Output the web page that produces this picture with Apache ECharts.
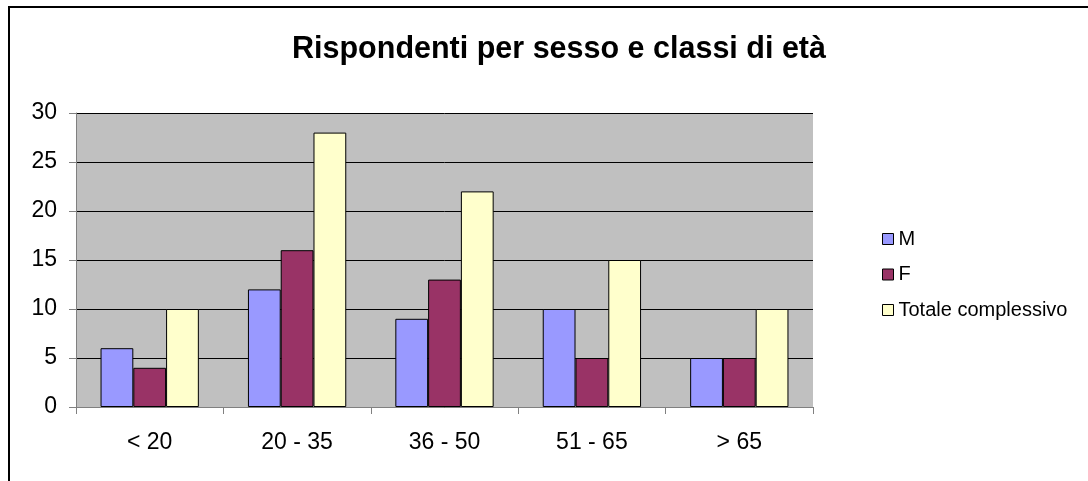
<!DOCTYPE html>
<html>
<head>
<meta charset="utf-8">
<script src="https://cdn.jsdelivr.net/npm/echarts@6/dist/echarts.min.js"></script>
<style>
  html, body { margin: 0; padding: 0; background: #fff; }
  #chart { width: 1088px; height: 481px; }
</style>
</head>
<body>
<div id="chart"></div>
<script>
// Respondents by sex and age class
const categories = ['< 20', '20 - 35', '36 - 50', '51 - 65', '> 65'];
const maschi = [6, 12, 9, 10, 5];
const femmine = [4, 16, 13, 5, 5];
const totale = [10, 28, 22, 15, 10];
const yTicks = { min: 0, max: 30, interval: 5 };

const FONT = '"Liberation Sans", Arial, sans-serif';
const barBorder = { borderColor: '#000', borderWidth: 1 };

const chart = echarts.init(document.getElementById('chart'));
chart.setOption({
  animation: false,
  backgroundColor: '#fff',
  textStyle: { fontFamily: FONT },
  title: {
    text: 'Rispondenti per sesso e classi di età',
    left: 554, top: 29, textAlign: 'center',
    textStyle: { fontFamily: FONT, fontSize: 30.5, fontWeight: 'bold', color: '#000' }
  },
  graphic: [
    { type: 'rect', shape: { x: 9, y: 7, width: 1100, height: 500 },
      style: { fill: null, stroke: '#000', lineWidth: 2 }, silent: true }
  ],
  legend: {
    orient: 'vertical',
    left: 877, top: 224,
    itemWidth: 11, itemHeight: 11, itemGap: 15.5,
    icon: 'rect',
    textStyle: { fontFamily: FONT, fontSize: 20, color: '#000', padding: [0, 0, 0, 0] },
    itemStyle: { borderColor: '#000', borderWidth: 1 },
    data: ['M', 'F', 'Totale complessivo']
  },
  grid: { left: 76, right: 275, top: 113, bottom: 74, show: true, backgroundColor: '#C0C0C0', borderWidth: 0 },
  xAxis: {
    type: 'category',
    data: categories,
    axisLine: { lineStyle: { color: '#808080', width: 1 } },
    axisTick: { show: true, length: 7, lineStyle: { color: '#808080' } },
    axisLabel: { fontSize: 23, color: '#000', margin: 24, fontFamily: FONT },
    splitLine: { show: false }
  },
  yAxis: {
    type: 'value',
    min: yTicks.min, max: yTicks.max, interval: yTicks.interval,
    axisLine: { show: true, lineStyle: { color: '#808080', width: 1 } },
    axisTick: { show: true, length: 7, lineStyle: { color: '#808080' } },
    axisLabel: { fontSize: 23, color: '#000', margin: 19, fontFamily: FONT },
    splitLine: { show: true, lineStyle: { color: '#000', width: 1 } }
  },
  series: [
    { name: 'M', type: 'bar', data: maschi, barGap: '0%', barCategoryGap: '33.3%',
      itemStyle: Object.assign({ color: '#9999FF' }, barBorder) },
    { name: 'F', type: 'bar', data: femmine, barGap: '0%', barCategoryGap: '33.3%',
      itemStyle: Object.assign({ color: '#993366' }, barBorder) },
    { name: 'Totale complessivo', type: 'bar', data: totale, barGap: '0%', barCategoryGap: '33.3%',
      itemStyle: Object.assign({ color: '#FFFFCC' }, barBorder) }
  ]
});
</script>
</body>
</html>
